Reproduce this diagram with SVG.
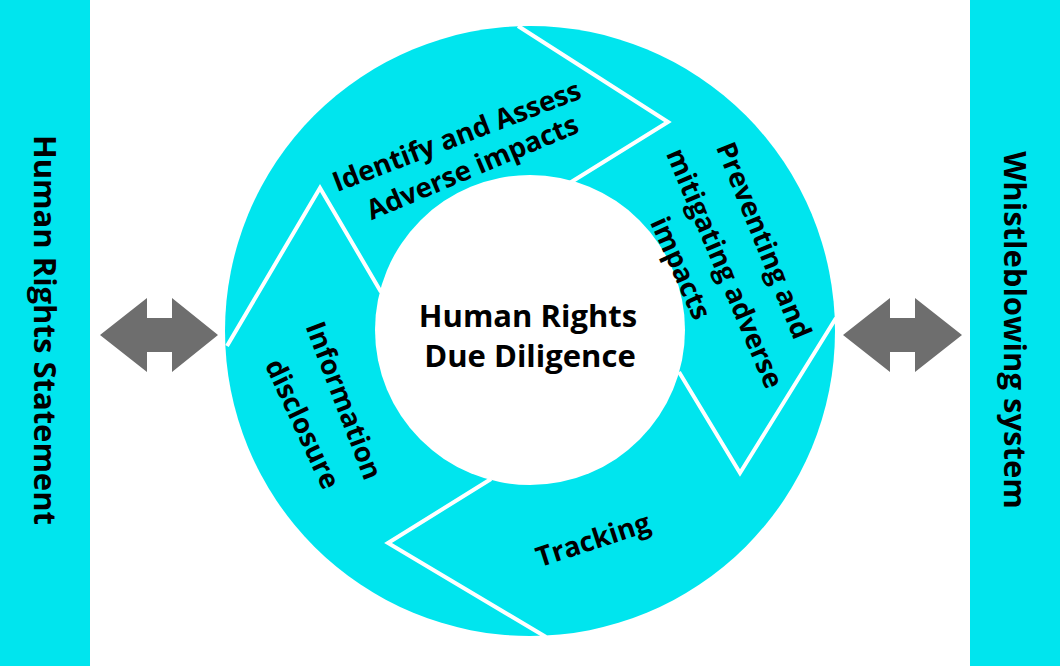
<svg xmlns="http://www.w3.org/2000/svg" width="1060" height="666" viewBox="0 0 1060 666">
<style>
.c{fill:#00E5EE}
.t{font-family:"Open Sans","Noto Sans",sans-serif;font-weight:bold;fill:#000;text-anchor:middle}
.s{font-size:27.5px}
.m{font-size:31px}
.w{fill:none;stroke:#fff;stroke-width:4;stroke-linejoin:miter}
.a{fill:#6E6E6E}
</style>
<rect width="1060" height="666" fill="#fff"/>
<g id="left-bar"><rect class="c" x="0" y="0" width="90" height="666"/>
<text class="t m" transform="translate(34,330) rotate(90)">Human Rights Statement</text></g>
<g id="right-bar"><rect class="c" x="970" y="0" width="90" height="666"/>
<text class="t m" transform="translate(1004,330) rotate(90)">Whistleblowing system</text></g>
<g id="cycle">
<circle class="c" cx="530" cy="331" r="305"/>
<circle cx="530" cy="330" r="155" fill="#fff"/>
</g>
<g id="connectors">
<polyline class="w" points="518,26 668,122 568,184"/>
<polyline class="w" points="836,318 740,473 679,372"/>
<polyline class="w" points="491,479 388,543 546,637"/>
<polyline class="w" points="381,292 320,188 227,346"/>
<path id="arrow-left" class="a" d="M100,335 L147,298 L147,318 L172,318 L172,298 L218,335 L172,372 L172,352 L147,352 L147,372 Z"/>
<path id="arrow-right" class="a" d="M843,335 L890,298 L890,318 L915,318 L915,298 L962,335 L915,372 L915,352 L890,352 L890,372 Z"/>
</g>
<g id="center"><text class="t m" x="528" y="327">Human Rights</text><text class="t m" x="530" y="367">Due Diligence</text></g>
<g id="identify">
<text class="t s" transform="translate(460,145) rotate(-21)">Identify and Assess</text>
<text class="t s" transform="translate(476,176) rotate(-23)">Adverse impacts</text></g>
<g id="preventing">
<text class="t s" transform="translate(755,244) rotate(68)">Preventing and</text>
<text class="t s" transform="translate(716,272) rotate(67)">mitigating adverse</text>
<text class="t s" transform="translate(672,272) rotate(66)">impacts</text></g>
<g id="tracking"><text class="t s" transform="translate(596,549) rotate(-18)">Tracking</text></g>
<g id="information">
<text class="t s" transform="translate(335,404) rotate(69)">Information</text>
<text class="t s" transform="translate(294,428) rotate(65)">disclosure</text></g>
</svg>
